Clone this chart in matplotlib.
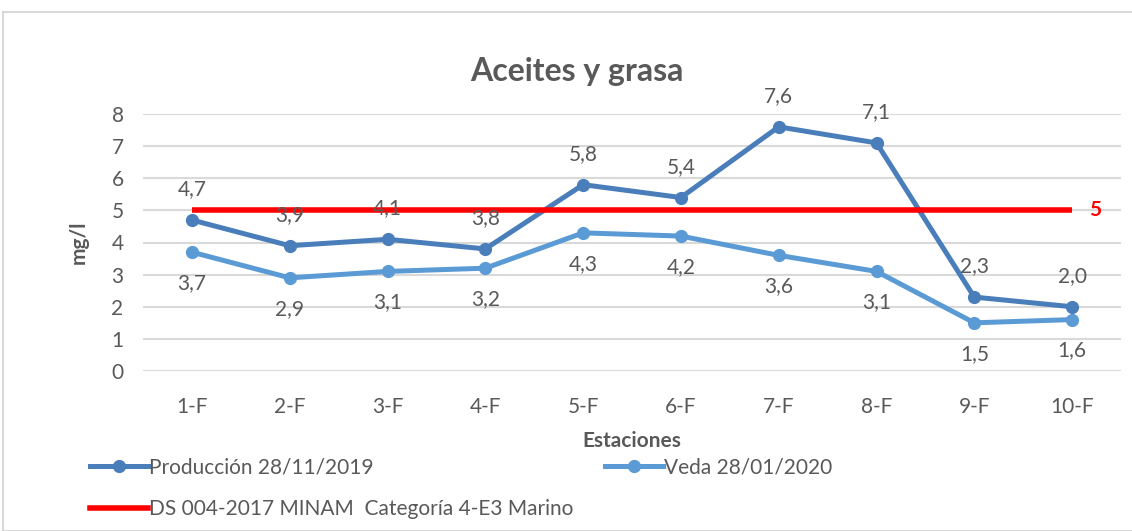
import matplotlib
matplotlib.use("Agg")
import matplotlib.pyplot as plt
from matplotlib.lines import Line2D
from matplotlib.patches import Rectangle

categories = ["1-F", "2-F", "3-F", "4-F", "5-F", "6-F", "7-F", "8-F", "9-F", "10-F"]
produccion = [4.7, 3.9, 4.1, 3.8, 5.8, 5.4, 7.6, 7.1, 2.3, 2.0]
veda = [3.7, 2.9, 3.1, 3.2, 4.3, 4.2, 3.6, 3.1, 1.5, 1.6]
limite = [5, 5, 5, 5, 5, 5, 5, 5, 5, 5]
yticks = [0, 1, 2, 3, 4, 5, 6, 7, 8]

name_prod = "Producción 28/11/2019"
name_veda = "Veda 28/01/2020"
name_lim = "DS 004-2017 MINAM  Categoría 4-E3 Marino"

plt.rcParams['font.family'] = ['Lato', 'DejaVu Sans']
grey = "#595959"
c_prod = "#4A7EBB"
c_veda = "#5B9BD5"
c_red = "#FF0000"
fs = 15

fig = plt.figure(figsize=(11.32, 5.31), dpi=100)
fig.patches.append(Rectangle((3/1132, 0), 1.0, 1 - 12/531, transform=fig.transFigure,
                             fill=False, edgecolor="#D9D9D9", lw=1.5, zorder=0))
ax = fig.add_axes([143/1132, 1 - 371/531, (1121 - 143)/1132, (371 - 114)/531])

x = list(range(len(categories)))
ax.plot(x, veda, color=c_veda, lw=3.6, marker="o", ms=8.5, zorder=3)
ax.plot(x, produccion, color=c_prod, lw=3.6, marker="o", ms=8.5, zorder=4)
ax.plot(x, limite, color=c_red, lw=4, solid_capstyle="butt", zorder=5)

def fmt(v):
    return f"{v:.1f}".replace(".", ",")

for xi, v in zip(x, produccion):
    ax.annotate(fmt(v), (xi, v), xytext=(0, 15), textcoords="offset points",
                ha="center", va="bottom", fontsize=fs, color=grey, zorder=6)
for xi, v in zip(x, veda):
    ax.annotate(fmt(v), (xi, v), xytext=(0, -15), textcoords="offset points",
                ha="center", va="top", fontsize=fs, color=grey, zorder=6)
ax.annotate(str(limite[-1]), (x[-1], limite[-1]), xytext=(12, 0), textcoords="offset points",
            ha="left", va="center", fontsize=fs, color=c_red, fontweight="bold")

ax.set_xlim(-0.5, len(categories) - 0.5)
ax.set_ylim(0, 8)
ax.set_yticks(yticks)
ax.set_xticks(x)
ax.set_xticklabels(categories)
ax.yaxis.grid(True, color="#D9D9D9", lw=1.5)
ax.set_axisbelow(True)
for s in ax.spines.values():
    s.set_visible(False)
ax.tick_params(axis="both", length=0, labelsize=fs, labelcolor=grey)
ax.tick_params(axis="x", pad=19)
ax.tick_params(axis="y", pad=14)

ax.set_xlabel("Estaciones", fontsize=fs, fontweight="bold", color=grey, labelpad=10)
ax.set_ylabel("mg/l", fontsize=fs, fontweight="bold", color=grey, labelpad=16)
fig.text(577/1132, 1 - 72/531, "Aceites y grasa", ha="center", va="center",
         fontsize=23, fontweight="bold", color=grey)

h_prod = Line2D([], [], color=c_prod, lw=3.6, marker="o", ms=8.5)
h_veda = Line2D([], [], color=c_veda, lw=3.6, marker="o", ms=8.5)
h_lim = Line2D([], [], color=c_red, lw=4)
leg = fig.legend([h_prod, h_lim, h_veda], [name_prod, name_lim, name_veda], ncol=2,
                 loc="upper left", bbox_to_anchor=(90/1132, 1 - 457/531),
                 frameon=False, fontsize=fs, handlelength=2.8, handletextpad=0.05,
                 columnspacing=1.5, labelspacing=1.05, borderaxespad=0, borderpad=0)
for t in leg.get_texts():
    t.set_color(grey)

fig.savefig("out.png", dpi=100)
